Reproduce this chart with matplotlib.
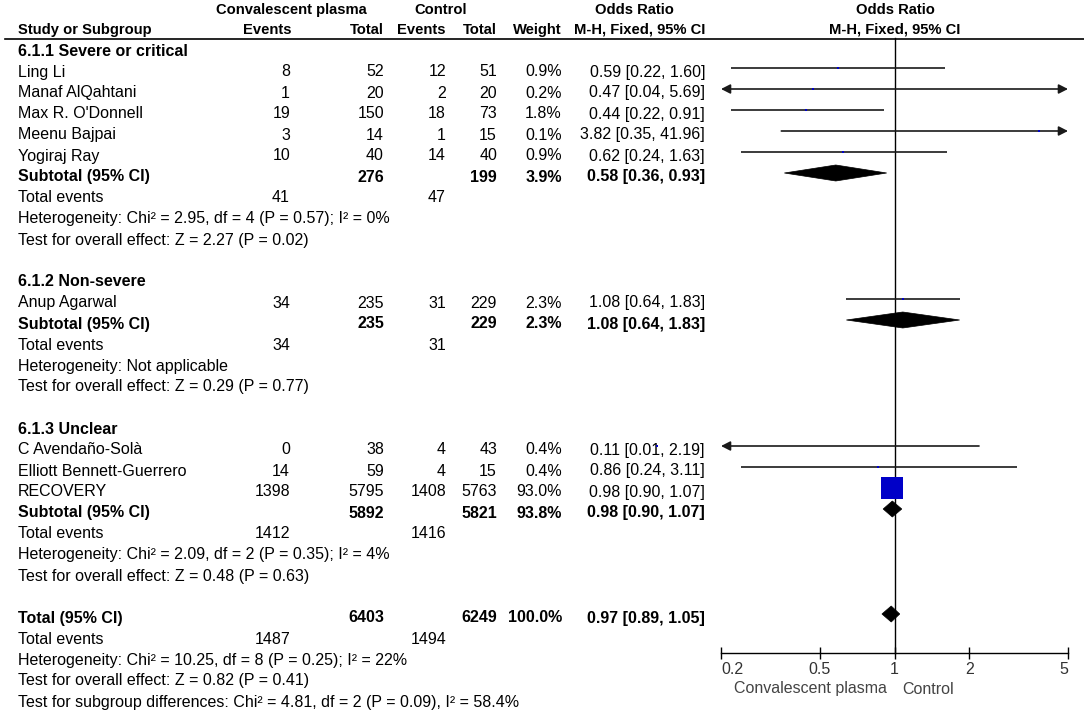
import matplotlib
matplotlib.use("Agg")
import matplotlib.pyplot as plt
from matplotlib.patches import Polygon
import numpy as np

plt.rcParams['font.family'] = ['Liberation Sans', 'DejaVu Sans']

# ---------------- data ----------------
group_names = ["6.1.1 Severe or critical", "6.1.2 Non-severe", "6.1.3 Unclear"]
group_of_study = [0, 0, 0, 0, 0, 1, 2, 2, 2]
studies = ["Ling Li", "Manaf AlQahtani", "Max R. O'Donnell", "Meenu Bajpai", "Yogiraj Ray",
           "Anup Agarwal", "C Avendaño-Solà", "Elliott Bennett-Guerrero", "RECOVERY"]
ev_cp = [8, 1, 19, 3, 10, 34, 0, 14, 1398]
tot_cp = [52, 20, 150, 14, 40, 235, 38, 59, 5795]
ev_ct = [12, 2, 18, 1, 14, 31, 4, 4, 1408]
tot_ct = [51, 20, 73, 15, 40, 229, 43, 15, 5763]
weight = [0.9, 0.2, 1.8, 0.1, 0.9, 2.3, 0.4, 0.4, 93.0]
or_est = [0.59, 0.47, 0.44, 3.82, 0.62, 1.08, 0.11, 0.86, 0.98]
or_lo = [0.22, 0.04, 0.22, 0.35, 0.24, 0.64, 0.01, 0.24, 0.90]
or_hi = [1.60, 5.69, 0.91, 41.96, 1.63, 1.83, 2.19, 3.11, 1.07]

sub_tot_cp = [276, 235, 5892]
sub_tot_ct = [199, 229, 5821]
sub_weight = [3.9, 2.3, 93.8]
sub_or = [0.58, 1.08, 0.98]
sub_lo = [0.36, 0.64, 0.90]
sub_hi = [0.93, 1.83, 1.07]
sub_ev_cp = [41, 34, 1412]
sub_ev_ct = [47, 31, 1416]
sub_het = ["Heterogeneity: Chi² = 2.95, df = 4 (P = 0.57); I² = 0%",
           "Heterogeneity: Not applicable",
           "Heterogeneity: Chi² = 2.09, df = 2 (P = 0.35); I² = 4%"]
sub_test = ["Test for overall effect: Z = 2.27 (P = 0.02)",
            "Test for overall effect: Z = 0.29 (P = 0.77)",
            "Test for overall effect: Z = 0.48 (P = 0.63)"]

total_tot_cp = 6403
total_tot_ct = 6249
total_weight = 100.0
total_or, total_lo, total_hi = 0.97, 0.89, 1.05
total_ev_cp, total_ev_ct = 1487, 1494
total_het = "Heterogeneity: Chi² = 10.25, df = 8 (P = 0.25); I² = 22%"
total_test = "Test for overall effect: Z = 0.82 (P = 0.41)"
subgroup_test = "Test for subgroup differences: Chi² = 4.81, df = 2 (P = 0.09), I² = 58.4%"

x_ticks = [0.2, 0.5, 1, 2, 5]
x_tick_labels = ["0.2", "0.5", "1", "2", "5"]
favours_left = "Convalescent plasma"
favours_right = "Control"

# ---------------- layout ----------------
W, H = 1084, 713
fig = plt.figure(figsize=(W / 100, H / 100), dpi=100)
tab = fig.add_axes([0, 0, 1, 1])
tab.set_xlim(0, W)
tab.set_ylim(H, 0)
tab.axis('off')

FS = 11.5
HFS = 10.6
X_NAME, X_EVC, X_TOTC, X_EVK, X_TOTK, X_W, X_OR = 18, 290, 384, 446, 497, 562, 705
PX_L, PX_R, PY_T, PY_B = 721, 1068, 38, 653
ax = fig.add_axes([PX_L / W, (H - PY_B) / H, (PX_R - PX_L) / W, (PY_B - PY_T) / H])
ax.set_xscale('log')
ax.set_xlim(x_ticks[0], x_ticks[-1])
ax.set_ylim(PY_B, PY_T)
ax.patch.set_alpha(0)
for s in ['top', 'left', 'right']:
    ax.spines[s].set_visible(False)
ax.spines['bottom'].set_linewidth(1.0)
ax.set_yticks([])
ax.minorticks_off()
ax.set_xticks(x_ticks)
ax.set_xticklabels([])
ax.tick_params(axis='x', direction='inout', length=9, width=1.0, which='major')
ax.tick_params(axis='x', which='minor', length=0)

def txt(x, y, s, ha='left', bold=False, color='black', fs=FS):
    tab.text(x, y, s, ha=ha, va='center', fontsize=fs,
             fontweight='bold' if bold else 'normal', color=color)

# header
txt(291, 10, "Convalescent plasma", ha='center', bold=True, fs=HFS)
txt(441, 10, "Control", ha='center', bold=True, fs=HFS)
txt(634, 10, "Odds Ratio", ha='center', bold=True, fs=HFS)
txt(895, 10, "Odds Ratio", ha='center', bold=True, fs=HFS)
txt(X_NAME, 30, "Study or Subgroup", bold=True, fs=HFS)
txt(X_EVC + 2, 30, "Events", ha='right', bold=True, fs=HFS)
txt(X_TOTC, 30, "Total", ha='right', bold=True, fs=HFS)
txt(X_EVK, 30, "Events", ha='right', bold=True, fs=HFS)
txt(X_TOTK, 30, "Total", ha='right', bold=True, fs=HFS)
txt(X_W, 30, "Weight", ha='right', bold=True, fs=HFS)
txt(X_OR, 30, "M-H, Fixed, 95% CI", ha='right', bold=True, fs=HFS)
txt(895, 30, "M-H, Fixed, 95% CI", ha='center', bold=True, fs=HFS)
tab.plot([5, W], [38.5, 38.5], color='black', lw=1.2)

# vertical line of no effect
ax.plot([1, 1], [PY_T, PY_B], color='black', lw=1.0, clip_on=False)

Y0, STEP, OFF = 51, 21, 4
BLUE = '#0000C8'
xmin, xmax = x_ticks[0], x_ticks[-1]

def ci_line(lo, hi, y):
    a, b = max(lo, xmin), min(hi, xmax)
    la, ra = lo < xmin, hi > xmax
    if la and ra:
        style = '<|-|>'
    elif la:
        style = '<|-'
    elif ra:
        style = '-|>'
    else:
        ax.plot([a, b], [y, y], color='#1a1a1a', lw=1.2, solid_capstyle='butt')
        return
    ax.annotate('', xy=(b, y), xytext=(a, y), xycoords='data',
                arrowprops=dict(arrowstyle=style + ',head_length=0.55,head_width=0.28',
                                color='#1a1a1a', lw=1.2, shrinkA=0, shrinkB=0),
                annotation_clip=False)

def diamond(est, lo, hi, y, h=8):
    ax.add_patch(Polygon([(lo, y), (est, y - h), (hi, y), (est, y + h)],
                         closed=True, facecolor='black', edgecolor='black', lw=0.5))

row = 0
for g, gname in enumerate(group_names):
    y = Y0 + STEP * row
    txt(X_NAME, y, gname, bold=True)
    row += 1
    for i in range(len(studies)):
        if group_of_study[i] != g:
            continue
        y = Y0 + STEP * row
        txt(X_NAME, y, studies[i])
        txt(X_EVC, y, str(ev_cp[i]), ha='right')
        txt(X_TOTC, y, str(tot_cp[i]), ha='right')
        txt(X_EVK, y, str(ev_ct[i]), ha='right')
        txt(X_TOTK, y, str(tot_ct[i]), ha='right')
        txt(X_W, y, f"{weight[i]:.1f}%", ha='right')
        txt(X_OR, y, f"{or_est[i]:.2f} [{or_lo[i]:.2f}, {or_hi[i]:.2f}]", ha='right')
        ym = y - OFF
        ci_line(or_lo[i], or_hi[i], ym)
        side_px = 22 * np.sqrt(weight[i] / 93.0)
        if weight[i] < 5:
            side_px = 2.4
        ax.plot([or_est[i]], [ym], marker='s', ms=side_px * 0.72, color=BLUE,
                mec=BLUE, mew=0, linestyle='none', clip_on=False, zorder=5)
        row += 1
    y = Y0 + STEP * row
    txt(X_NAME, y, "Subtotal (95% CI)", bold=True)
    txt(X_TOTC, y, str(sub_tot_cp[g]), ha='right', bold=True)
    txt(X_TOTK, y, str(sub_tot_ct[g]), ha='right', bold=True)
    txt(X_W, y, f"{sub_weight[g]:.1f}%", ha='right', bold=True)
    txt(X_OR, y, f"{sub_or[g]:.2f} [{sub_lo[g]:.2f}, {sub_hi[g]:.2f}]", ha='right', bold=True)
    diamond(sub_or[g], sub_lo[g], sub_hi[g], y - OFF)
    row += 1
    y = Y0 + STEP * row
    txt(X_NAME, y, "Total events")
    txt(X_EVC, y, str(sub_ev_cp[g]), ha='right')
    txt(X_EVK, y, str(sub_ev_ct[g]), ha='right')
    row += 1
    txt(X_NAME, Y0 + STEP * row, sub_het[g])
    row += 1
    txt(X_NAME, Y0 + STEP * row, sub_test[g])
    row += 2

y = Y0 + STEP * row
txt(X_NAME, y, "Total (95% CI)", bold=True)
txt(X_TOTC, y, str(total_tot_cp), ha='right', bold=True)
txt(X_TOTK, y, str(total_tot_ct), ha='right', bold=True)
txt(X_W, y, f"{total_weight:.1f}%", ha='right', bold=True)
txt(X_OR, y, f"{total_or:.2f} [{total_lo:.2f}, {total_hi:.2f}]", ha='right', bold=True)
diamond(total_or, total_lo, total_hi, y - OFF)
row += 1
y = Y0 + STEP * row
txt(X_NAME, y, "Total events")
txt(X_EVC, y, str(total_ev_cp), ha='right')
txt(X_EVK, y, str(total_ev_ct), ha='right')
row += 1
txt(X_NAME, Y0 + STEP * row, total_het)
row += 1
txt(X_NAME, Y0 + STEP * row, total_test)
row += 1
txt(X_NAME, Y0 + STEP * row, subgroup_test)

# axis tick labels
for k, (t, lab) in enumerate(zip(x_ticks, x_tick_labels)):
    ha = 'left' if k == 0 else ('right' if k == len(x_ticks) - 1 else 'center')
    ax.text(t, 670, lab, ha=ha, va='center', fontsize=FS, color='#333333', clip_on=False)
ax.text(0.93, 689, favours_left, ha='right', va='center', fontsize=FS, color='#444444', clip_on=False)
ax.text(1.07, 689, favours_right, ha='left', va='center', fontsize=FS, color='#444444', clip_on=False)

fig.savefig("out.png", dpi=100)
